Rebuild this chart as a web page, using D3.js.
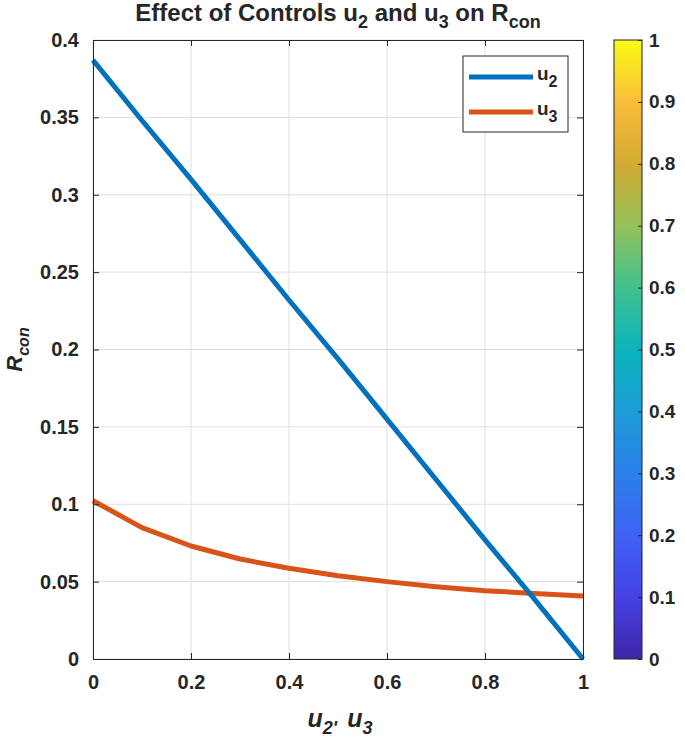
<!DOCTYPE html>
<html>
<head>
<meta charset="utf-8">
<script src="https://cdn.jsdelivr.net/npm/d3@7"></script>
<style>
  body { margin: 0; background: #fff; }
  svg text { font-family: "Liberation Sans", Arial, sans-serif; font-weight: bold; fill: #262626; }
</style>
</head>
<body>
<div id="chart"></div>
<script>
// Data
const uValues = [0, 0.1, 0.2, 0.3, 0.4, 0.5, 0.6, 0.7, 0.8, 0.9, 1];
const rconU2 = [0.387, 0.348, 0.310, 0.271, 0.232, 0.194, 0.155, 0.116, 0.077, 0.039, 0];
const rconU3 = [0.1023, 0.0849, 0.073, 0.0646, 0.0586, 0.0538, 0.050, 0.0467, 0.0441, 0.0424, 0.0407];
const xTicks = [0, 0.2, 0.4, 0.6, 0.8, 1];
const yTicks = [0, 0.05, 0.1, 0.15, 0.2, 0.25, 0.3, 0.35, 0.4];
const cbTicks = [0, 0.1, 0.2, 0.3, 0.4, 0.5, 0.6, 0.7, 0.8, 0.9, 1];
// parula-like colour stops for the colour bar
const parulaStops = ["#3e26a8", "#4541e4", "#3d62f4", "#2b80ea", "#1c9cd6", "#0bb4bc",
                     "#40c08e", "#95c25a", "#d3aa32", "#fbbd3a", "#f9fb15"];

const width = 685;
const height = 740;
const plot = { left: 93, right: 583, top: 40, bottom: 659 };
const cb = { left: 614, right: 642 };

const svg = d3.select("#chart").append("svg").attr("width", width).attr("height", height);

const x = d3.scaleLinear().domain([0, 1]).range([plot.left, plot.right]);
const y = d3.scaleLinear().domain([0, 0.4]).range([plot.bottom, plot.top]);

// grid
const grid = svg.append("g").attr("stroke", "#e0e0e0").attr("stroke-width", 1);
grid.selectAll(".gx").data(xTicks).join("line")
    .attr("x1", d => x(d)).attr("x2", d => x(d))
    .attr("y1", plot.top).attr("y2", plot.bottom);
grid.selectAll(".gy").data(yTicks).join("line")
    .attr("x1", plot.left).attr("x2", plot.right)
    .attr("y1", d => y(d)).attr("y2", d => y(d));

// lines
const line = (vals) => d3.line().x((d, i) => x(uValues[i])).y(d => y(d))(vals);
svg.append("path").attr("d", line(rconU3))
    .attr("fill", "none").attr("stroke", "#d95319").attr("stroke-width", 5).attr("stroke-linejoin", "round");
svg.append("path").attr("d", line(rconU2))
    .attr("fill", "none").attr("stroke", "#0072bd").attr("stroke-width", 5).attr("stroke-linejoin", "round");

// axes (inside ticks, box)
const tickLen = 6;
const bottomAxis = svg.append("g").attr("transform", `translate(0,${plot.bottom})`)
    .call(d3.axisBottom(x).tickValues(xTicks).tickSizeInner(-tickLen).tickSizeOuter(0).tickPadding(16)
        .tickFormat(d3.format("")));
const topAxis = svg.append("g").attr("transform", `translate(0,${plot.top})`)
    .call(d3.axisTop(x).tickValues(xTicks).tickSizeInner(-tickLen).tickSizeOuter(0).tickFormat(""));
const leftAxis = svg.append("g").attr("transform", `translate(${plot.left},0)`)
    .call(d3.axisLeft(y).tickValues(yTicks).tickSizeInner(-tickLen).tickSizeOuter(0).tickPadding(14)
        .tickFormat(d3.format("")));
const rightAxis = svg.append("g").attr("transform", `translate(${plot.right},0)`)
    .call(d3.axisRight(y).tickValues(yTicks).tickSizeInner(-tickLen).tickSizeOuter(0).tickFormat(""));
[bottomAxis, topAxis, leftAxis, rightAxis].forEach(a => {
    a.select(".domain").attr("stroke", "#262626");
    a.selectAll(".tick line").attr("stroke", "#262626");
    a.selectAll("text").attr("font-size", 20).attr("font-family", null).attr("fill", "#262626");
});
bottomAxis.selectAll("text").attr("dy", "0.7em");

// title
const title = svg.append("text").attr("x", 338).attr("y", 21).attr("text-anchor", "middle").attr("font-size", 24);
title.append("tspan").text("Effect of Controls u");
title.append("tspan").attr("dy", 7).attr("font-size", 18).text("2");
title.append("tspan").attr("dy", -7).text(" and u");
title.append("tspan").attr("dy", 7).attr("font-size", 18).text("3");
title.append("tspan").attr("dy", -7).text(" on R");
title.append("tspan").attr("dy", 7).attr("font-size", 18).text("con");

// x label
const xl = svg.append("text").attr("x", 340).attr("y", 727).attr("text-anchor", "middle")
    .attr("font-size", 25).attr("font-style", "italic");
xl.append("tspan").text("u");
xl.append("tspan").attr("dy", 7).attr("font-size", 18).text("2'");
xl.append("tspan").attr("dy", -7).attr("dx", 10).text("u");
xl.append("tspan").attr("dy", 7).attr("font-size", 18).text("3");

// y label
const yl = svg.append("text").attr("transform", `translate(22,${(plot.top + plot.bottom) / 2}) rotate(-90)`)
    .attr("text-anchor", "middle").attr("font-size", 22).attr("font-style", "italic");
yl.append("tspan").text("R");
yl.append("tspan").attr("dy", 7).attr("font-size", 16).text("con");

// legend
const legend = svg.append("g");
legend.append("rect").attr("x", 463).attr("y", 56).attr("width", 105).attr("height", 76)
    .attr("fill", "#fff").attr("stroke", "#262626").attr("stroke-width", 1);
const legendItems = [{ name: "2", color: "#0072bd", cy: 77 }, { name: "3", color: "#d95319", cy: 112 }];
legendItems.forEach(it => {
    legend.append("line").attr("x1", 469).attr("x2", 533).attr("y1", it.cy).attr("y2", it.cy)
        .attr("stroke", it.color).attr("stroke-width", 5);
    const t = legend.append("text").attr("x", 537).attr("y", it.cy + 3).attr("font-size", 19);
    t.append("tspan").text("u");
    t.append("tspan").attr("dy", 7).attr("font-size", 16).text(it.name);
});

// colour bar
const cbScale = d3.scaleLinear().domain([0, 1]).range([plot.bottom, plot.top]);
const defs = svg.append("defs");
const grad = defs.append("linearGradient").attr("id", "parula")
    .attr("x1", 0).attr("y1", 1).attr("x2", 0).attr("y2", 0);
grad.selectAll("stop").data(parulaStops).join("stop")
    .attr("offset", (d, i) => i / (parulaStops.length - 1))
    .attr("stop-color", d => d);
svg.append("rect").attr("x", cb.left).attr("y", plot.top)
    .attr("width", cb.right - cb.left).attr("height", plot.bottom - plot.top)
    .attr("fill", "url(#parula)").attr("stroke", "#262626").attr("stroke-width", 1);
const cbAxis = svg.append("g").attr("transform", `translate(${cb.right},0)`)
    .call(d3.axisRight(cbScale).tickValues(cbTicks).tickSizeInner(-4).tickSizeOuter(0).tickPadding(7)
        .tickFormat(d3.format("")));
cbAxis.select(".domain").remove();
cbAxis.selectAll(".tick line").attr("stroke", "#262626");
cbAxis.selectAll("text").attr("font-size", 19).attr("font-family", null).attr("fill", "#262626");
</script>
</body>
</html>
